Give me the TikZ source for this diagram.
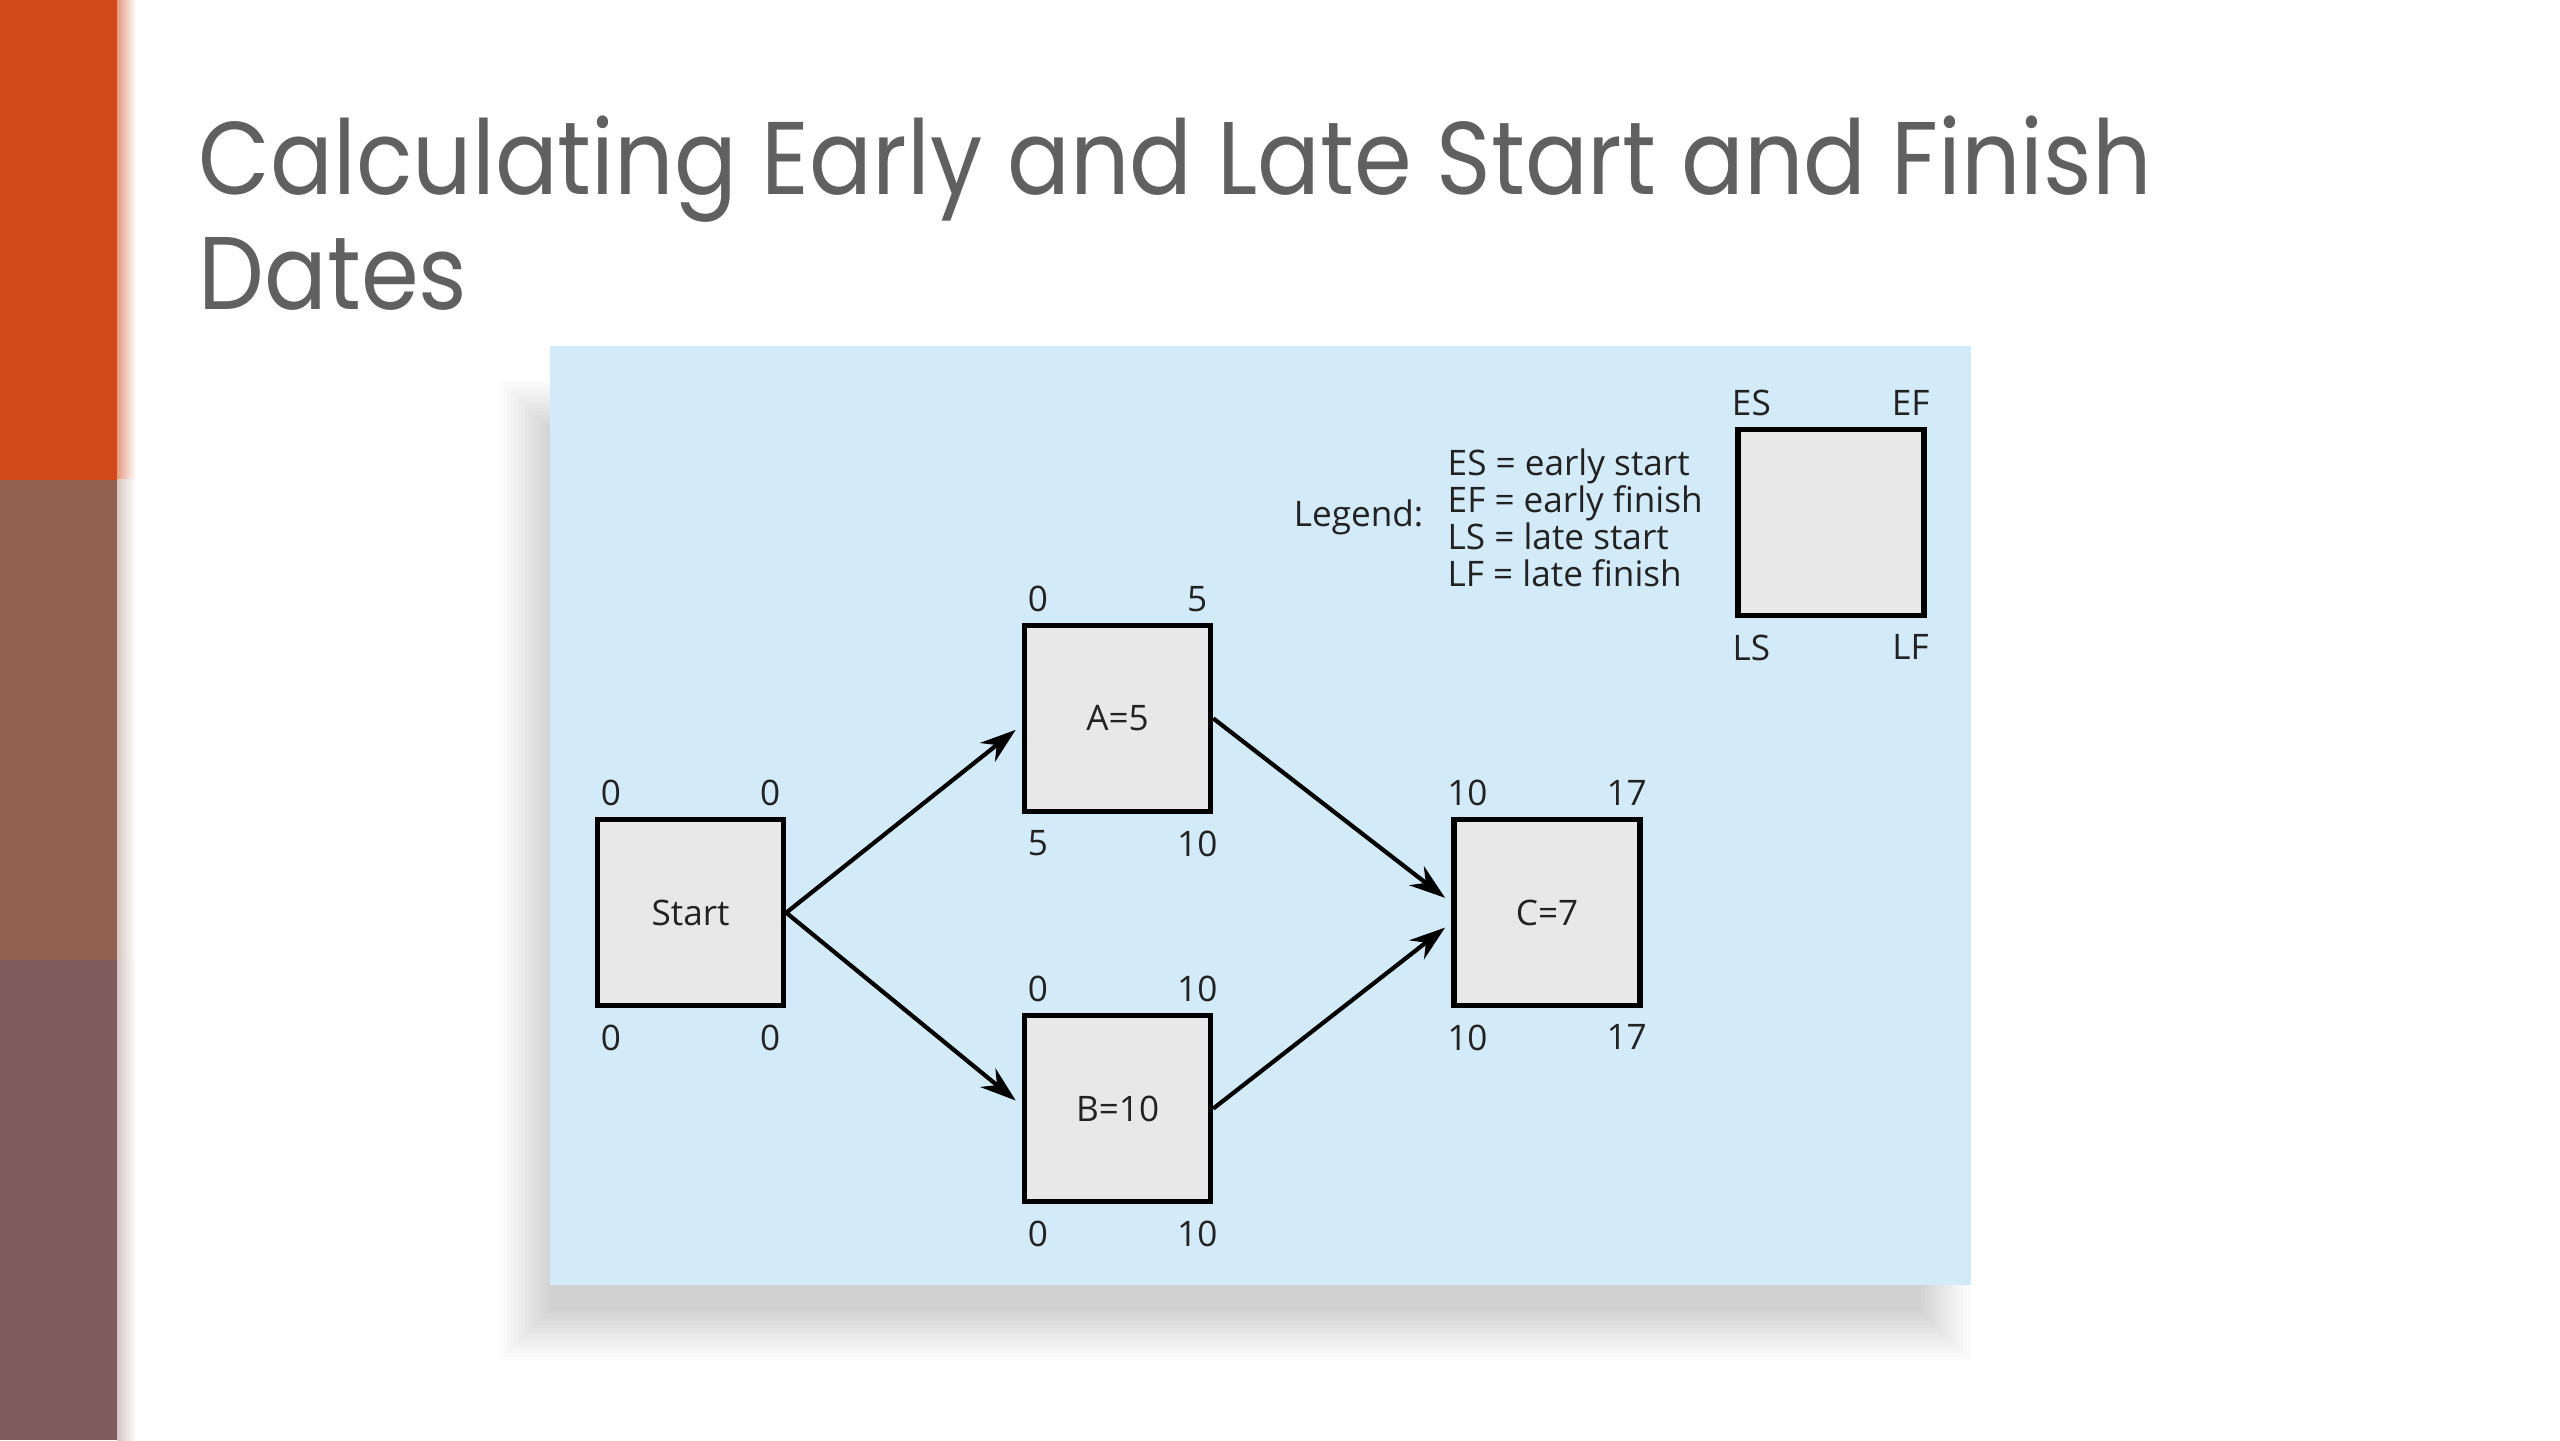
\documentclass[tikz,border=0pt]{standalone}
\usepackage{fontspec}
\setmainfont{Open Sans}
\newfontfamily\titlefont{Poppins}[FakeStretch=0.9]
\usetikzlibrary{arrows.meta,calc,positioning}

\definecolor{barorange}{HTML}{D24A18}
\definecolor{barbrown}{HTML}{93614F}
\definecolor{barplum}{HTML}{7F5B5D}
\definecolor{panelblue}{HTML}{D3EAF9}
\definecolor{boxgray}{HTML}{E8E8E8}
\definecolor{titlegray}{HTML}{606060}
\definecolor{inkgray}{HTML}{222222}

\tikzset{
  actbox/.style={draw=black, fill=boxgray, line width=1.5pt, minimum size=1.86cm,
    inner sep=0pt, text=inkgray, font=\fontsize{10}{12}\selectfont},
  numhi/.style={anchor=south, inner ysep=3pt, text=inkgray, font=\fontsize{10}{12}\selectfont},
  numlo/.style={numhi, anchor=north, inner ysep=4.5pt},
  legtext/.style={inner sep=0pt, text=inkgray, font=\fontsize{10}{12}\selectfont},
  link/.style={-{Stealth[length=0.36cm, width=0.24cm]}, line width=1.2pt, shorten >=0.08cm},
}

\begin{document}
\begin{tikzpicture}
    \useasboundingbox (0,0) rectangle (25.6,14.4);
    \fill[white] (0,0) rectangle (25.6,14.4);

    % side bar
    \fill[barorange] (0,9.6) rectangle (1.17,14.4);
    \fill[barbrown] (0,4.8) rectangle (1.17,9.6);
    \fill[barplum] (0,0) rectangle (1.17,4.8);
    \shade[left color=barorange!55, right color=white] (1.17,9.6) rectangle (1.36,14.4);
    \shade[left color=barbrown!35, right color=white] (1.17,4.8) rectangle (1.36,9.6);
    \shade[left color=barplum!35, right color=white] (1.17,0) rectangle (1.36,4.8);

    % title
    \node[anchor=base west, inner sep=0pt, text=titlegray, font=\titlefont\fontsize{29.4}{34}\selectfont]
        (title) at (1.98,12.45) {Calculating Early and Late Start and Finish};
    \node[anchor=base west, inner sep=0pt, text=titlegray, font=\titlefont\fontsize{29.4}{34}\selectfont]
        (title2) at (1.98,11.30) {Dates};

    % panel with its shadow
    \foreach \k in {0,...,14}
        \fill[black, opacity=0.01] (5.0+0.035*\k,0.8+0.035*\k) rectangle (19.7-0.035*\k,10.6-0.035*\k);
    \fill[panelblue] (5.50,1.55) rectangle (19.71,10.94);

    \node[actbox] (st) at (6.906,5.273) {Start};
    \node[actbox] (a) at (11.176,7.216) {A=5};
    \node[actbox] (b) at (11.176,3.314) {B=10};
    \node[actbox] (c) at (15.47,5.273) {C=7};
    \node[actbox] (key) at (18.31,9.175) {};

    \foreach \n/\es/\ef/\ls/\lf in {st/0/0/0/0, a/0/5/5/10, b/0/10/0/10, c/10/17/10/17, key/ES/EF/LS/LF} {
        \node[numhi] (\n-es) at ([xshift=0.16cm]\n.north west) {\es};
        \node[numhi] (\n-ef) at ([xshift=-0.16cm]\n.north east) {\ef};
        \node[numlo] (\n-ls) at ([xshift=0.16cm]\n.south west) {\ls};
        \node[numlo] (\n-lf) at ([xshift=-0.16cm]\n.south east) {\lf};
    }

    \draw[link] (st.east) -- ([yshift=-0.065cm]a.west);
    \draw[link] (st.east) -- ([yshift=0.03cm]b.west);
    \draw[link] (a.east) -- ([yshift=0.1cm]c.west);
    \draw[link] (b.east) -- ([yshift=-0.1cm]c.west);

    % legend
    \node[legtext, anchor=base east] (legend) at (14.24,9.13) {Legend:};
    \foreach \t [count=\i] in {ES = early start, EF = early finish, LS = late start, LF = late finish}
        \node[legtext, anchor=base west] (leg\i) at (14.47,10.01-0.37*\i) {\t};
\end{tikzpicture}
\end{document}
